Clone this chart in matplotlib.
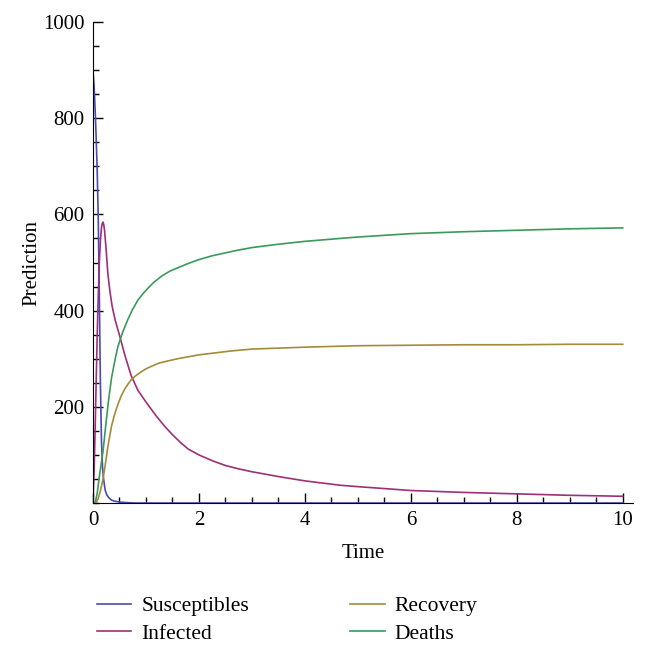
import matplotlib.pyplot as plt
from matplotlib.ticker import MultipleLocator

plt.rcParams['font.family'] = ['Liberation Serif', 'DejaVu Serif']

# values
t_s = [0, 0.02, 0.04, 0.06, 0.08, 0.1, 0.12, 0.14, 0.16, 0.18, 0.2, 0.23, 0.26, 0.3, 0.35, 0.4, 0.5, 0.6, 0.8, 1.0, 10]
susceptibles = [900, 870, 820, 760, 690, 590, 430, 250, 130, 75, 50, 27, 17, 11, 6, 4, 2, 1, 0, 0, 0]

t_i = [0, 0.02, 0.04, 0.06, 0.08, 0.1, 0.12, 0.14, 0.16, 0.175, 0.19, 0.205, 0.22, 0.25, 0.28, 0.32, 0.36, 0.42,
       0.51, 0.6, 0.72, 0.85, 1.0, 1.1, 1.2, 1.35, 1.5, 1.65, 1.8, 2.0, 2.25, 2.5, 2.75, 3.0, 3.5, 4.0, 4.66,
       5.0, 6.0, 7.0, 8.0, 9.0, 10.0]
infected = [0, 60, 150, 250, 350, 430, 500, 545, 572, 581, 584, 578, 565, 525, 478, 440, 410, 380,
            345, 308, 265, 234, 210, 195, 180, 160, 142, 126, 112, 100, 88, 78, 71, 65, 55, 46, 37,
            34, 26, 22, 19, 16, 14]

t_r = [0, 0.06, 0.1, 0.14, 0.19, 0.23, 0.28, 0.35, 0.41, 0.47, 0.53, 0.6, 0.66, 0.72, 0.8, 0.9, 1.0, 1.12, 1.25,
       1.4, 1.6, 1.8, 2.0, 2.3, 2.6, 3.0, 3.5, 4.0, 5.0, 6.0, 7.0, 8.0, 9.0, 10.0]
recovery = [0, 0, 10, 25, 50, 78, 116, 160, 185, 205, 222, 237, 247, 256, 264, 272, 279, 285, 291,
            295, 300, 304, 308, 312, 316, 320, 322, 324, 327, 328, 329, 329, 330, 330]

t_d = [0, 0.04, 0.08, 0.12, 0.16, 0.19, 0.24, 0.29, 0.35, 0.42, 0.47, 0.56, 0.66, 0.75, 0.85, 0.95, 1.05, 1.15,
       1.3, 1.45, 1.6, 1.8, 2.0, 2.25, 2.5, 2.75, 3.0, 3.5, 4.0, 4.66, 5.0, 6.0, 7.0, 8.0, 9.0, 10.0]
deaths = [0, 0, 20, 55, 85, 108, 160, 210, 260, 300, 325, 355, 382, 403, 422, 436, 448, 459,
          472, 482, 489, 498, 506, 514, 520, 526, 531, 538, 544, 550, 553, 560, 564, 567, 570, 572]

fig = plt.figure(figsize=(6.47, 6.53), dpi=100)
ax = fig.add_axes([0.1437, 0.2297, 0.8352, 0.7366])

ax.plot(t_s, susceptibles, color='#4a4ab2', lw=1.2, label='Susceptibles')
ax.plot(t_i, infected, color='#9e2f78', lw=1.2, label='Infected')
ax.plot(t_r, recovery, color='#a38b3a', lw=1.2, label='Recovery')
ax.plot(t_d, deaths, color='#3a9a5c', lw=1.2, label='Deaths')

ax.set_xlim(0, 10.2)
ax.set_ylim(0, 1000)
ax.spines['top'].set_visible(False)
ax.spines['right'].set_visible(False)
ax.set_xticks([0, 2, 4, 6, 8, 10])
ax.set_yticks([200, 400, 600, 800, 1000])
ax.xaxis.set_minor_locator(MultipleLocator(0.5))
ax.yaxis.set_minor_locator(MultipleLocator(50))
ax.tick_params(which='major', direction='in', length=7, width=1, labelsize=15, pad=6)
ax.tick_params(which='minor', direction='in', length=4, width=1)
ax.set_xlabel('Time', fontsize=15, labelpad=10)
ax.set_ylabel('Prediction', fontsize=15, labelpad=1)

fig.legend(loc='upper left', bbox_to_anchor=(0.12, 0.117), ncol=2, frameon=False,
           fontsize=15.5, handlelength=1.6, columnspacing=4.7, labelspacing=0.35, handletextpad=0.45)

fig.savefig('out.png', dpi=100)
